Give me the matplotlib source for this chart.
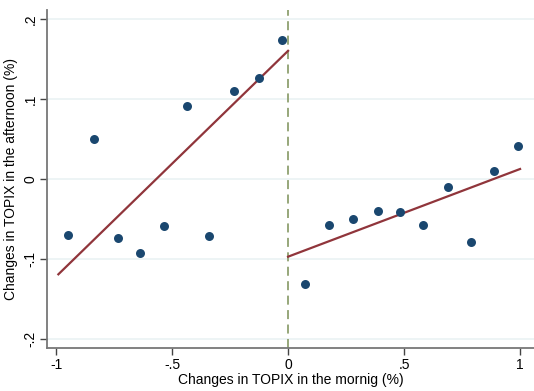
import numpy as np
import matplotlib.pyplot as plt

plt.rcParams['font.family'] = ['Liberation Sans', 'DejaVu Sans']

# Binned scatter: morning change vs afternoon change (TOPIX, %)
x_neg = [-0.948, -0.836, -0.733, -0.638, -0.534, -0.435, -0.340, -0.233, -0.125, -0.026]
y_neg = [-0.070, 0.050, -0.074, -0.092, -0.059, 0.091, -0.071, 0.110, 0.126, 0.174]
x_pos = [0.073, 0.175, 0.280, 0.387, 0.484, 0.582, 0.690, 0.787, 0.888, 0.991]
y_pos = [-0.131, -0.057, -0.050, -0.040, -0.041, -0.057, -0.010, -0.079, 0.010, 0.041]

# fitted lines, read at the ends of each side
fit_neg_x = [-0.99, 0.0]
fit_neg_y = [-0.119, 0.160]
fit_pos_x = [0.0, 1.0]
fit_pos_y = [-0.097, 0.0125]

xticks = [-1, -0.5, 0, 0.5, 1]
xtick_labels = ["-1", "-.5", "0", ".5", "1"]
yticks = [-0.2, -0.1, 0, 0.1, 0.2]
ytick_labels = ["-.2", "-.1", "0", ".1", ".2"]

fig = plt.figure(figsize=(5.34, 3.91), dpi=100)
ax = fig.add_axes([47 / 534, 1 - 348 / 391, 1 - 47 / 534, (348 - 10) / 391])

for yv in yticks:
    ax.axhline(yv, color="#eaf2f3", lw=1.2, zorder=0)

ax.axvline(0, color="#8fa070", lw=1.3, ls=(0, (5, 3)), zorder=1)

ax.plot(fit_neg_x, fit_neg_y, color="#90353b", lw=1.6, zorder=2)
ax.plot(fit_pos_x, fit_pos_y, color="#90353b", lw=1.6, zorder=2)

ax.scatter(x_neg, y_neg, s=42, color="#1a476f", zorder=3, linewidths=0)
ax.scatter(x_pos, y_pos, s=42, color="#1a476f", zorder=3, linewidths=0)

ax.set_xlim(-1.039, 1.060)
ax.set_ylim(-0.211, 0.211)

ax.set_xticks(xticks)
ax.set_xticklabels(xtick_labels)
ax.set_yticks(yticks)
ax.set_yticklabels(ytick_labels, rotation=90, va="center")

ax.spines["top"].set_visible(False)
ax.spines["right"].set_visible(False)
for s in ["left", "bottom"]:
    ax.spines[s].set_color("#777777")
    ax.spines[s].set_linewidth(1.3)
ax.tick_params(direction="out", length=5, width=1, color="#444444",
               labelsize=10, pad=2)

ax.set_xlabel("Changes in TOPIX in the mornig (%)", fontsize=10, labelpad=1)
ax.set_ylabel("Changes in TOPIX in the afternoon (%)", fontsize=10, labelpad=4)

fig.savefig("out.png", dpi=100)
